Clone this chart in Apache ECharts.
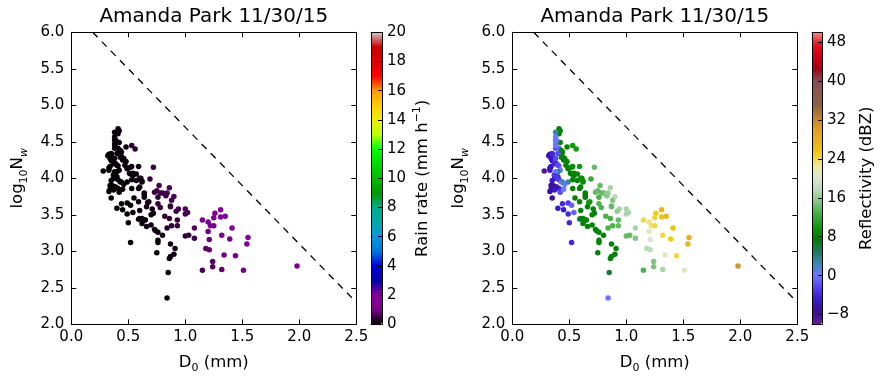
<!DOCTYPE html>
<html><head><meta charset="utf-8">
<script src="https://cdn.jsdelivr.net/npm/echarts@6/dist/echarts.min.js"></script>
<style>html,body{margin:0;padding:0;background:#fff}#c{width:886px;height:386px}</style>
</head><body><div id="c"></div>
<script>
// ---- data ----
const titleText = 'Amanda Park 11/30/15';
const d0 = [0.41,0.42,0.41,0.38,0.38,0.38,0.42,0.48,0.53,0.56,0.38,0.41,0.43,0.44,0.33,0.35,0.32,0.40,0.44,0.46,
0.45,0.48,0.36,0.35,0.37,0.39,0.34,0.33,0.28,0.41,0.42,0.40,0.49,0.52,0.59,0.72,0.51,0.54,0.57,0.37,
0.40,0.37,0.41,0.44,0.46,0.49,0.53,0.57,0.61,0.62,0.69,0.35,0.37,0.34,0.41,0.39,0.33,0.42,0.45,0.53,
0.59,0.60,0.64,0.64,0.64,0.55,0.35,0.44,0.49,0.40,0.45,0.49,0.52,0.54,0.59,0.60,0.67,0.68,0.66,0.71,
0.72,0.70,0.76,0.73,0.75,0.77,0.78,0.76,0.80,0.82,0.83,0.86,0.84,0.90,0.88,0.87,0.87,0.94,1.00,0.78,
0.82,0.86,0.84,0.88,0.93,0.93,1.00,1.02,0.92,1.08,1.00,1.03,1.08,0.59,0.60,0.62,0.64,0.62,0.65,0.66,
0.70,0.50,0.73,0.74,0.76,0.80,0.76,0.76,0.87,0.91,0.90,0.86,0.87,0.75,0.85,0.52,0.84,1.15,1.20,1.22,
1.25,1.25,1.26,1.31,1.31,1.35,1.20,1.32,1.39,1.41,1.21,1.18,1.21,1.34,1.44,1.55,1.54,1.24,1.24,1.15,
1.32,1.51,1.98,0.38,0.39,0.38,0.33,0.35,0.34,0.38,0.43,0.37,0.40,0.33,0.38,0.37,0.39,0.35,0.34,0.43,
0.37,0.47,0.49,0.53,0.52,0.54,0.60,0.62];
const log10Nw = [4.68,4.65,4.61,4.63,4.52,4.47,4.49,4.43,4.45,4.40,4.41,4.41,4.38,4.36,4.33,4.34,4.31,4.34,4.30,4.27,
4.25,4.23,4.27,4.24,4.23,4.20,4.16,4.14,4.10,4.17,4.11,4.09,4.14,4.15,4.16,4.15,4.07,4.07,4.06,4.05,
4.02,4.00,3.98,3.95,3.92,3.95,3.98,3.97,4.00,3.96,3.99,3.91,3.89,3.85,3.86,3.88,3.82,3.81,3.85,3.86,
3.86,3.88,3.80,3.77,3.74,3.73,3.73,3.65,3.66,3.59,3.57,3.51,3.63,3.53,3.68,3.56,3.67,3.68,3.61,3.58,
3.52,3.50,3.65,3.81,3.83,3.90,3.80,3.74,3.80,3.79,3.76,3.87,3.80,3.75,3.70,3.62,3.61,3.58,3.58,3.60,
3.48,3.45,3.32,3.35,3.35,3.43,3.51,3.53,3.55,3.32,3.21,3.22,3.18,3.44,3.45,3.45,3.43,3.38,3.43,3.34,
3.36,3.39,3.30,3.28,3.26,3.22,3.15,3.12,3.10,3.04,2.96,2.90,2.93,2.98,2.71,3.12,2.36,3.43,3.40,3.35,
3.35,3.46,3.52,3.47,3.57,3.48,3.27,3.22,3.17,3.32,3.16,3.04,3.02,2.95,2.94,3.19,3.10,2.86,2.79,2.74,
2.75,2.74,2.80,4.57,4.52,4.45,4.32,4.32,4.27,4.27,4.29,4.20,4.18,4.11,4.09,4.04,4.00,3.97,3.90,3.95,
3.84,4.18,4.13,4.16,4.06,4.04,4.00,3.95];
const reflectivity = [8,8,8,3,0,0,8,8,10,10,-2,-1,8,8,-6,-4,-7,-2,8,8,
7,8,-6,-6,-3,-3,-5,-6,-9,0,0,4,8,8,10,14,8,8,8,-6,
-4,-7,-3,-1,0,3,8,8,8,8,12,-6,-6,-7,-4,-6,-7,-2,0,8,
8,8,8,8,8,8,-7,-4,-3,-5,-5,-4,-1,-1,8,8,10,10,8,8,
8,8,13,14,14,14,14,13,14,15,15,17,16,18,15,14,14,17,17,13,
13,13,13,13,14,14,17,17,16,17,14,14,15,3,7,8,8,8,8,8,
8,-4,8,8,8,8,8,8,8,8,8,8,8,7,6,-4,0,24,23,23,
24,24,25,26,27,27,21,24,25,26,20,18,18,21,24,28,27,15,15,13,
17,21,31,0,0,0,-6,-4,-5,-2,8,-4,-2,-5,0,-3,-3,-5,-7,2,
-5,8,8,9,8,8,9,9];
const rainRate = [0.08,0.08,0.08,0.08,0.06,0.06,0.08,0.1,0.35,0.35,0.06,0.06,0.08,0.08,0.04,0.04,0.04,0.06,0.08,0.08,
0.08,0.08,0.04,0.04,0.04,0.04,0.04,0.04,0.02,0.06,0.06,0.06,0.08,0.08,0.15,0.5,0.08,0.08,0.08,0.04,
0.04,0.04,0.04,0.06,0.06,0.06,0.08,0.1,0.15,0.15,0.45,0.04,0.04,0.04,0.04,0.04,0.04,0.04,0.06,0.08,
0.1,0.1,0.15,0.15,0.15,0.08,0.04,0.04,0.04,0.04,0.04,0.04,0.06,0.06,0.1,0.1,0.2,0.2,0.15,0.15,
0.15,0.15,0.45,0.5,0.5,0.55,0.5,0.45,0.5,0.55,0.55,0.65,0.55,0.65,0.55,0.45,0.45,0.6,0.6,0.45,
0.4,0.4,0.4,0.4,0.45,0.45,0.6,0.6,0.5,0.7,0.45,0.45,0.5,0.06,0.08,0.1,0.1,0.1,0.1,0.1,
0.15,0.04,0.15,0.15,0.15,0.15,0.1,0.1,0.15,0.15,0.15,0.1,0.1,0.08,0.08,0.04,0.04,1.2,1.1,1.1,
1.2,1.3,1.4,1.5,1.6,1.6,0.9,1.2,1.3,1.5,0.9,0.8,0.8,1.0,1.2,1.7,1.6,0.7,0.7,0.6,
0.8,1.1,1.5,0.06,0.06,0.06,0.04,0.04,0.04,0.04,0.08,0.04,0.04,0.04,0.04,0.04,0.04,0.04,0.04,0.06,
0.04,0.08,0.08,0.1,0.08,0.08,0.15,0.15];
const refLine = [[0.1875, 6.0], [2.5, 2.3]];
const xTicks = {min: 0, max: 2.5, step: 0.5};
const yTicks = {min: 2, max: 6, step: 0.5};
const rainTicks = {min: 0, max: 20, step: 2};
const reflRange = {min: -10, max: 50};
const reflTicks = [-8, 0, 8, 16, 24, 32, 40, 48];

// colour maps
const nipySpectral = ['#000000','#770088','#880099','#0000aa','#0000dd','#0077dd','#0099dd','#00aaaa','#00aa88','#009900',
'#00bb00','#00dd00','#00ff00','#bbff00','#eeee00','#ffcc00','#ff9900','#ff0000','#dd0000','#cc0000','#cccccc'];
const reflCmap = ['#6a1a9a','#3a1090','#3a18c8','#5040f0','#6a78ff','#3a88b0','#207860','#007c00','#10980e','#40ac40',
'#80c480','#b4d8b4','#d8e6d0','#f0e8a0','#f0cc10','#eab020','#e0a020','#c08030','#8a6040','#8a5a48',
'#8a4a58','#a00010','#d00010','#e81020','#f08a8a'];

const rows = d0.map((d, i) => [d, log10Nw[i], reflectivity[i], rainRate[i]]);

// ---- layout ----
const FONT = 'DejaVu Sans';
const G = [
  {left: 71.3, top: 32.3, width: 285, height: 292},
  {left: 371, top: 32.3, width: 11, height: 292},
  {left: 512.3, top: 32.3, width: 285, height: 292},
  {left: 812, top: 32.3, width: 10, height: 292}
];
const lineS = {show: true, onZero: false, lineStyle: {color: '#000', width: 1}};
const fmt1 = v => v.toFixed(1);
function mainX(g, pos, lab) {
  return {type: 'value', gridIndex: g, position: pos, min: xTicks.min, max: xTicks.max, interval: xTicks.step,
    axisLine: lineS, axisTick: {show: true, inside: true, length: 5, lineStyle: {color: '#000'}},
    axisLabel: {show: lab, margin: 5, color: '#000', fontSize: 15, fontFamily: FONT, formatter: fmt1},
    splitLine: {show: false},
    name: lab ? '{a|D}{s|0}{a| (mm)}' : '', nameLocation: 'middle', nameGap: 27,
    nameTextStyle: {color: '#000', fontFamily: FONT, rich: {
      a: {fontSize: 16.5, fontFamily: FONT, color: '#000', lineHeight: 22},
      s: {fontSize: 11, fontFamily: FONT, color: '#000', verticalAlign: 'bottom'}}}};
}
function mainY(g, pos, lab) {
  return {type: 'value', gridIndex: g, position: pos, min: yTicks.min, max: yTicks.max, interval: yTicks.step,
    axisLine: lineS, axisTick: {show: true, inside: true, length: 5, lineStyle: {color: '#000'}},
    axisLabel: {show: lab, margin: 7, color: '#000', fontSize: 15, fontFamily: FONT, formatter: fmt1},
    splitLine: {show: false},
    name: lab ? '{a|log}{s|10}{a|N}{w|w}' : '', nameLocation: 'middle', nameGap: 42, nameRotate: 90,
    nameTextStyle: {color: '#000', fontFamily: FONT, rich: {
      a: {fontSize: 16.5, fontFamily: FONT, color: '#000', lineHeight: 24},
      s: {fontSize: 11, fontFamily: FONT, color: '#000', verticalAlign: 'bottom'},
      w: {fontSize: 11, fontFamily: FONT, color: '#000', fontStyle: 'italic', verticalAlign: 'bottom'}}}};
}
function cbFrameX(g, pos) {
  return {type: 'value', gridIndex: g, position: pos, min: 0, max: 1, z: 10,
    axisLine: lineS, axisTick: {show: false}, axisLabel: {show: false}, splitLine: {show: false}};
}
function cbFrameY(g) {
  return {type: 'value', gridIndex: g, position: 'left', min: 0, max: 1, z: 10,
    axisLine: lineS, axisTick: {show: false}, axisLabel: {show: false}, splitLine: {show: false}};
}
const cbName = {color: '#000', fontFamily: FONT, fontSize: 16.5, rich: {
  a: {fontSize: 16.5, fontFamily: FONT, color: '#000', lineHeight: 22},
  p: {fontSize: 11, fontFamily: FONT, color: '#000', verticalAlign: 'top'}}};

const option = {
  backgroundColor: '#fff',
  animation: false,
  grid: G.map(g => Object.assign({containLabel: false}, g)),
  graphic: [
    {type: 'text', x: G[0].left + G[0].width / 2, y: 7, style: {text: titleText, textAlign: 'center', textVerticalAlign: 'top', font: '20px "DejaVu Sans"', fill: '#000'}},
    {type: 'text', x: G[2].left + G[2].width / 2, y: 7, style: {text: titleText, textAlign: 'center', textVerticalAlign: 'top', font: '20px "DejaVu Sans"', fill: '#000'}}
  ],
  xAxis: [mainX(0, 'bottom', true), mainX(0, 'top', false), mainX(2, 'bottom', true), mainX(2, 'top', false),
    cbFrameX(1, 'bottom'), cbFrameX(1, 'top'), cbFrameX(3, 'bottom'), cbFrameX(3, 'top')],
  yAxis: [mainY(0, 'left', true), mainY(0, 'right', false), mainY(2, 'left', true), mainY(2, 'right', false),
    {type: 'value', gridIndex: 1, position: 'right', min: rainTicks.min, max: rainTicks.max, interval: rainTicks.step, z: 10,
      axisLine: lineS, axisTick: {show: true, inside: true, length: 4, lineStyle: {color: '#000'}},
      axisLabel: {margin: 5, color: '#000', fontSize: 15, fontFamily: FONT}, splitLine: {show: false},
      name: '{a|Rain rate (mm h}{p|\u22121}{a|)}', nameLocation: 'middle', nameRotate: 90, nameGap: 30, nameTextStyle: cbName},
    cbFrameY(1),
    {type: 'value', gridIndex: 3, position: 'right', min: reflRange.min, max: reflRange.max, z: 10,
      axisLine: lineS, axisTick: {show: true, inside: true, length: 4, customValues: reflTicks, lineStyle: {color: '#000'}},
      axisLabel: {margin: 5, color: '#000', fontSize: 15, fontFamily: FONT, customValues: reflTicks,
        formatter: v => String(v).replace('-', '\u2212')}, splitLine: {show: false},
      name: 'Reflectivity (dBZ)', nameLocation: 'middle', nameRotate: 90, nameGap: 36, nameTextStyle: cbName},
    cbFrameY(3)],
  visualMap: [
    {type: 'continuous', seriesIndex: 0, dimension: 3, min: rainTicks.min, max: rainTicks.max,
      inRange: {color: nipySpectral}, left: G[1].left, top: G[1].top, itemWidth: G[1].width, itemHeight: G[1].height,
      orient: 'vertical', calculable: false, hoverLink: false, padding: 0, text: null, showLabel: false},
    {type: 'continuous', seriesIndex: 2, dimension: 2, min: reflRange.min, max: reflRange.max,
      inRange: {color: reflCmap}, left: G[3].left, top: G[3].top, itemWidth: G[3].width, itemHeight: G[3].height,
      orient: 'vertical', calculable: false, hoverLink: false, padding: 0, text: null, showLabel: false}
  ],
  series: [
    {type: 'scatter', xAxisIndex: 0, yAxisIndex: 0, data: rows, symbolSize: 5.5, encode: {x: 0, y: 1}, itemStyle: {opacity: 1}, z: 3},
    {type: 'line', xAxisIndex: 0, yAxisIndex: 0, data: refLine, symbol: 'none', silent: true, z: 2,
      lineStyle: {color: '#000', width: 1.3, type: [7, 6]}},
    {type: 'scatter', xAxisIndex: 2, yAxisIndex: 2, data: rows, symbolSize: 5.5, encode: {x: 0, y: 1}, itemStyle: {opacity: 1}, z: 3},
    {type: 'line', xAxisIndex: 2, yAxisIndex: 2, data: refLine, symbol: 'none', silent: true, z: 2,
      lineStyle: {color: '#000', width: 1.3, type: [7, 6]}}
  ]
};
const chart = echarts.init(document.getElementById('c'), null, {renderer: 'canvas'});
chart.setOption(option);
</script></body></html>
